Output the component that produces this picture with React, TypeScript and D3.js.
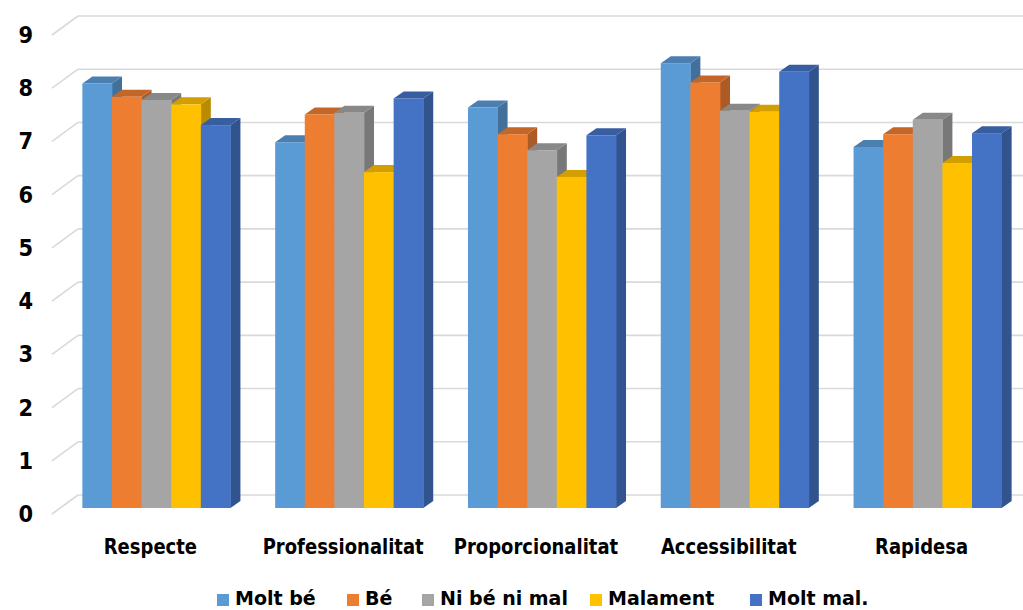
import React from "react";
import * as d3 from "d3";

const categories = ["Respecte", "Professionalitat", "Proporcionalitat", "Accessibilitat", "Rapidesa"];
const seriesNames = ["Molt bé", "Bé", "Ni bé ni mal", "Malament", "Molt mal."];
const moltBe = [7.95, 6.85, 7.5, 8.33, 6.76];
const be = [7.7, 7.37, 7.0, 7.97, 7.0];
const niBeNiMal = [7.64, 7.4, 6.7, 7.44, 7.27];
const malament = [7.56, 6.29, 6.2, 7.42, 6.46];
const moltMal = [7.17, 7.67, 6.98, 8.17, 7.02];
const seriesValues = [moltBe, be, niBeNiMal, malament, moltMal];
const colors = ["#5B9BD5", "#ED7D31", "#A5A5A5", "#FFC000", "#4472C4"];
const yTicks = [0, 1, 2, 3, 4, 5, 6, 7, 8, 9];
const legendX = [217, 347, 422, 590, 750];

const W = 1023;
const H = 610;
const FONT = "'DejaVu Sans', sans-serif";

export default function App() {
  const yFront = d3.scaleLinear().domain([0, 9]).range([514, 35]);
  const yBar = d3.scaleLinear().domain([0, 9]).range([508, 508 - 9 * 53.4]);
  const wallDx = 26, wallDy = -19;
  const barShiftX = 8;
  const depthDx = 10, depthDy = -7;

  const x0 = d3.scaleBand<string>().domain(categories).range([52, 1016]).paddingInner(0.232).paddingOuter(0.116);
  const x1 = d3.scaleBand<number>().domain(d3.range(seriesNames.length)).range([0, x0.bandwidth()]);

  const bars: React.ReactNode[] = [];
  categories.forEach((c, ci) => {
    seriesValues.forEach((vals, si) => {
      const v = vals[ci];
      const x = (x0(c) as number) + (x1(si) as number) + barShiftX;
      const w = x1.bandwidth();
      const yt = yBar(v);
      const yb = yBar(0);
      const base = d3.color(colors[si])!;
      const top = base.darker(0.55).formatHex();
      const side = base.darker(0.9).formatHex();
      const topPath = d3.path();
      topPath.moveTo(x, yt);
      topPath.lineTo(x + depthDx, yt + depthDy);
      topPath.lineTo(x + w + depthDx, yt + depthDy);
      topPath.lineTo(x + w, yt);
      topPath.closePath();
      const sidePath = d3.path();
      sidePath.moveTo(x + w, yt);
      sidePath.lineTo(x + w + depthDx, yt + depthDy);
      sidePath.lineTo(x + w + depthDx, yb + depthDy);
      sidePath.lineTo(x + w, yb);
      sidePath.closePath();
      bars.push(
        <g key={`${ci}-${si}`}>
          <path d={sidePath.toString()} fill={side} />
          <path d={topPath.toString()} fill={top} />
          <rect x={x} y={yt} width={w + 0.4} height={yb - yt} fill={colors[si]} />
        </g>
      );
    });
  });

  return (
    <svg width={W} height={H} style={{ position: "absolute", left: 0, top: 0, display: "block", background: "#fff" }}>
      {yTicks.map((t) => (
        <g key={t} stroke="#D9D9D9" strokeWidth={1.6} fill="none">
          <line x1={52} y1={yFront(t)} x2={52 + wallDx} y2={yFront(t) + wallDy} />
          <line x1={52 + wallDx} y1={yFront(t) + wallDy} x2={W} y2={yFront(t) + wallDy} />
        </g>
      ))}
      {bars}
      {yTicks.map((t) => (
        <text key={t} transform={`translate(33,${yFront(t) + 8}) scale(1,1.1)`} textAnchor="end" fontFamily={FONT} fontWeight="bold" fontSize={21} fill="#000">
          {t}
        </text>
      ))}
      {categories.map((c) => (
        <text key={c} transform={`translate(${(x0(c) as number) + x0.bandwidth() / 2 + 2},554) scale(1,1.2)`} textAnchor="middle" fontFamily={FONT} fontWeight="bold" fontSize={18} fill="#000">
          {c}
        </text>
      ))}
      {seriesNames.map((n, i) => (
        <g key={n}>
          <rect x={legendX[i]} y={594} width={12} height={12} fill={colors[i]} />
          <text x={legendX[i] + 18} y={605} fontFamily={FONT} fontWeight="bold" fontSize={19} fill="#000">
            {n}
          </text>
        </g>
      ))}
    </svg>
  );
}
